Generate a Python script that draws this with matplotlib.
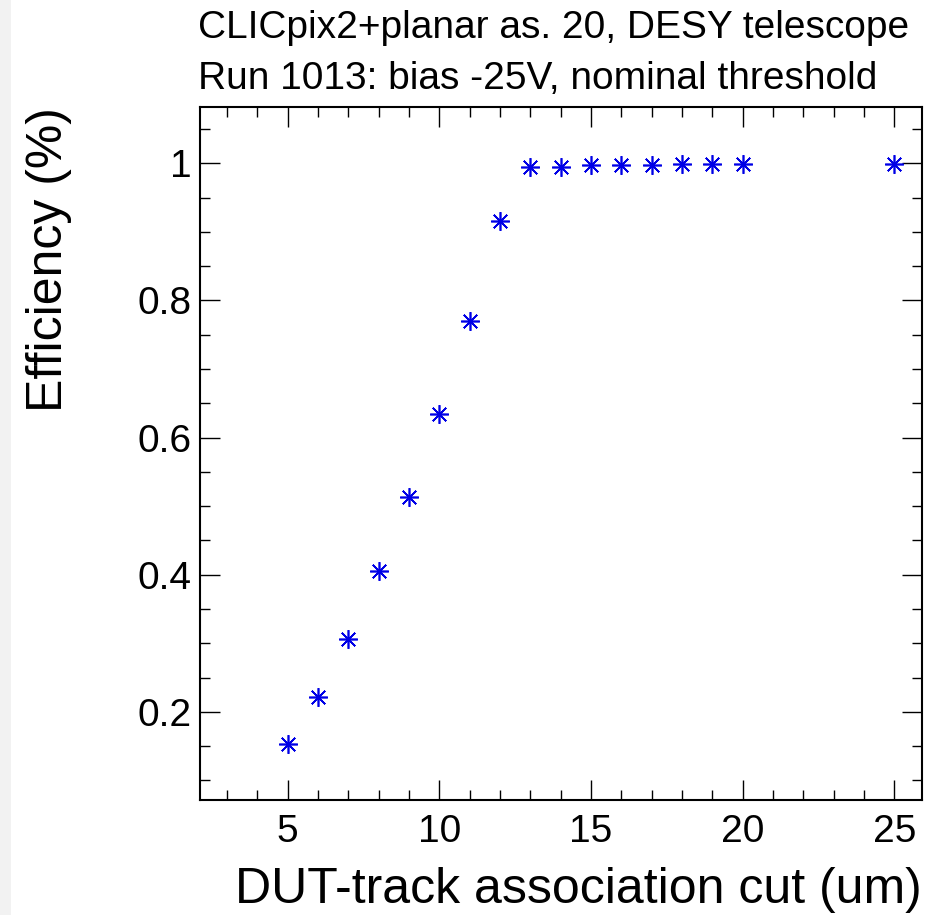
import matplotlib
matplotlib.use("Agg")
import matplotlib.pyplot as plt
from matplotlib.patches import Rectangle
from matplotlib.ticker import MultipleLocator

plt.rcParams['font.family'] = ['Liberation Sans', 'DejaVu Sans']

# data: efficiency vs association cut
cut_um = [5, 6, 7, 8, 9, 10, 11, 12, 13, 14, 15, 16, 17, 18, 19, 20, 25]
efficiency = [0.153, 0.222, 0.306, 0.406, 0.514, 0.635, 0.770, 0.916,
              0.994, 0.995, 0.997, 0.998, 0.998, 0.999, 0.999, 0.9995, 0.9995]

title_lines = ["CLICpix2+planar as. 20, DESY telescope",
               "Run 1013: bias -25V, nominal threshold"]

W, H = 940, 915
fig = plt.figure(figsize=(W / 100, H / 100), dpi=100)
fig.patches.append(Rectangle((0, 0), 11 / W, 1, transform=fig.transFigure,
                             facecolor='#f2f2f2', edgecolor='none', zorder=-1))

ax = fig.add_axes([200 / W, 1 - 800 / H, 722 / W, 693 / H])
ax.plot(cut_um, efficiency, linestyle='none', marker=(8, 2, 0),
        markersize=13.5, markeredgewidth=1.2, color='#0000e6')

ax.set_xlim(2.11, 25.91)
ax.set_ylim(0.0715, 1.082)
ax.xaxis.set_major_locator(MultipleLocator(5))
ax.xaxis.set_minor_locator(MultipleLocator(1))
ax.yaxis.set_major_locator(MultipleLocator(0.2))
ax.yaxis.set_minor_locator(MultipleLocator(0.05))
ax.yaxis.set_major_formatter(plt.FuncFormatter(lambda v, p: f"{v:g}"))

ax.tick_params(which='both', direction='in', top=True, right=True,
               labelsize=28, width=1.0)
ax.tick_params(which='major', length=14.5)
ax.tick_params(which='minor', length=7.2)
ax.tick_params(axis='x', pad=10)
ax.tick_params(axis='y', pad=6)
for s in ax.spines.values():
    s.set_linewidth(1.5)

ax.set_xlabel("DUT-track association cut (um)", fontsize=36, ha='right')
ax.xaxis.set_label_coords(1.0, -0.097)
ax.set_ylabel("Efficiency (%)", fontsize=36, ha='right')
ax.yaxis.set_label_coords(-0.177, 1.0)

fig.text(198 / W, 1 - 37.5 / H, title_lines[0], fontsize=28, ha='left', va='baseline')
fig.text(198 / W, 1 - 88.5 / H, title_lines[1], fontsize=28, ha='left', va='baseline')

fig.savefig("out.png", dpi=100)
